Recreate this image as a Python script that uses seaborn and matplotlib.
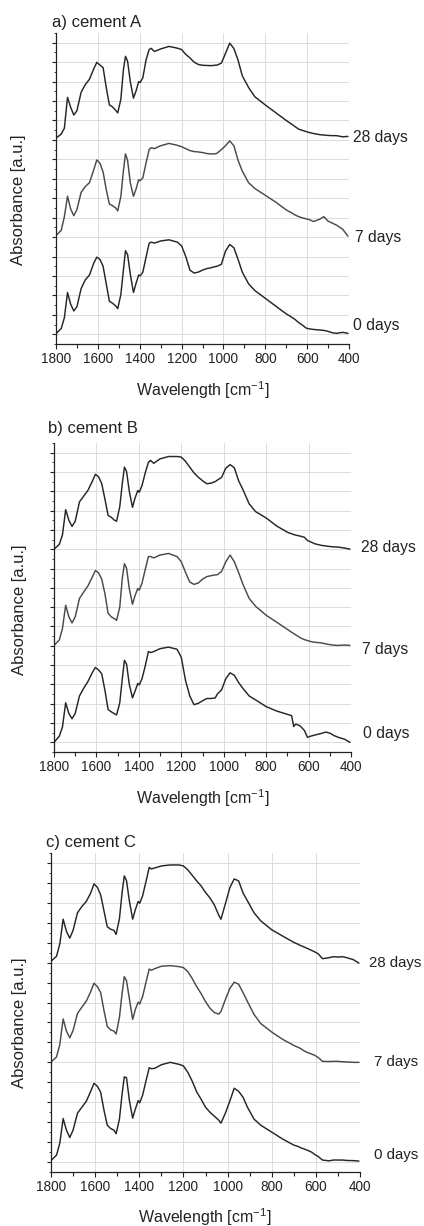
import pandas as pd
import matplotlib.pyplot as plt
import matplotlib.transforms as mtransforms
import seaborn as sns

# Wavenumber grid shared by all spectra (cm-1)
wn = [1800, 1775, 1760, 1745, 1730, 1715, 1700, 1680, 1660, 1640,
      1620, 1605, 1590, 1575, 1560, 1545, 1530, 1515, 1505, 1490,
      1478, 1468, 1458, 1445, 1430, 1418, 1405, 1398, 1385, 1370,
      1355, 1345, 1330, 1300, 1260, 1220, 1200, 1180, 1160, 1140,
      1120, 1100, 1080, 1060, 1040, 1030, 1010, 990, 970, 950,
      930, 910, 880, 850, 800, 750, 700, 680, 670, 660,
      640, 620, 605, 590, 570, 540, 520, 500, 480, 460,
      430, 405]

# cement A (stacked absorbance, a.u.)
a_0d = [0.03, 0.3, 0.85, 2.15, 1.55, 1.2, 1.42, 2.35, 2.8, 3.05,
        3.65, 3.97, 3.85, 3.5, 2.6, 1.7, 1.6, 1.46, 1.32, 2.05,
        3.3, 4.3, 4.1, 3.1, 2.15, 2.6, 3.05, 3.0, 3.2, 3.95,
        4.68, 4.74, 4.69, 4.8, 4.86, 4.74, 4.55, 4.0, 3.3, 3.15,
        3.2, 3.3, 3.38, 3.42, 3.48, 3.5, 3.6, 4.28, 4.62, 4.45,
        3.85, 3.2, 2.6, 2.25, 1.85, 1.45, 1.05, 0.92, 0.85, 0.78,
        0.6, 0.45, 0.32, 0.28, 0.25, 0.22, 0.2, 0.15, 0.08, 0.05,
        0.1, 0.05]
a_7d = [5.08, 5.35, 6.05, 7.1, 6.45, 6.1, 6.42, 7.3, 7.6, 7.8,
        8.45, 8.97, 8.8, 8.35, 7.45, 6.7, 6.62, 6.5, 6.35, 7.1,
        8.4, 9.28, 8.95, 7.8, 7.1, 7.45, 7.95, 7.9, 8.05, 8.8,
        9.5, 9.6, 9.55, 9.7, 9.82, 9.72, 9.65, 9.55, 9.45, 9.4,
        9.38, 9.35, 9.3, 9.28, 9.28, 9.32, 9.5, 9.7, 9.95, 9.7,
        8.95, 8.4, 7.8, 7.5, 7.15, 6.8, 6.4, 6.28, 6.22, 6.15,
        6.05, 5.98, 5.94, 5.9, 5.8, 5.92, 6.05, 5.82, 5.72, 5.62,
        5.4, 5.05]
a_28d = [10.09, 10.3, 10.6, 12.19, 11.68, 11.28, 11.5, 12.45, 12.85, 13.12,
         13.65, 13.99, 13.85, 13.72, 12.7, 11.8, 11.7, 11.52, 11.39, 12.1,
         13.6, 14.3, 14.05, 13.0, 12.15, 12.5, 13.0, 12.95, 13.2, 14.1,
         14.65, 14.71, 14.55, 14.68, 14.81, 14.72, 14.65, 14.4, 14.22, 14.0,
         13.88, 13.84, 13.83, 13.82, 13.84, 13.85, 13.95, 14.45, 14.98, 14.7,
         14.1, 13.3, 12.7, 12.22, 11.8, 11.4, 11.0, 10.85, 10.78, 10.7,
         10.55, 10.48, 10.43, 10.38, 10.33, 10.27, 10.25, 10.23, 10.22, 10.22,
         10.16, 10.18]

# cement B
b_0d = [0.0, 0.32, 0.8, 2.05, 1.5, 1.22, 1.5, 2.4, 2.8, 3.15,
        3.6, 3.88, 3.75, 3.55, 2.7, 1.7, 1.58, 1.48, 1.42, 2.05,
        3.3, 4.25, 4.05, 3.0, 2.3, 2.65, 3.05, 2.97, 3.3, 3.95,
        4.7, 4.65, 4.7, 4.85, 4.93, 4.82, 4.4, 3.2, 2.4, 1.95,
        2.02, 2.15, 2.27, 2.27, 2.3, 2.5, 2.72, 3.3, 3.6, 3.47,
        3.1, 2.8, 2.4, 2.2, 1.85, 1.62, 1.45, 1.38, 0.82, 0.95,
        0.85, 0.62, 0.26, 0.32, 0.38, 0.46, 0.53, 0.48, 0.35, 0.26,
        0.16, 0.0]
b_7d = [5.02, 5.3, 5.9, 7.1, 6.5, 6.18, 6.5, 7.45, 7.78, 8.1,
        8.55, 8.9, 8.78, 8.45, 7.7, 6.68, 6.5, 6.4, 6.32, 7.0,
        8.5, 9.25, 9.02, 7.95, 7.15, 7.6, 7.97, 7.88, 8.25, 8.95,
        9.62, 9.62, 9.55, 9.7, 9.78, 9.62, 9.35, 8.8, 8.3, 8.18,
        8.25, 8.45, 8.58, 8.63, 8.67, 8.68, 8.85, 9.35, 9.7, 9.35,
        8.8, 8.2, 7.45, 7.05, 6.58, 6.22, 5.85, 5.7, 5.63, 5.56,
        5.42, 5.32, 5.27, 5.22, 5.18, 5.15, 5.1, 5.06, 5.03, 5.02,
        5.04, 5.02]
b_28d = [10.0, 10.25, 10.75, 12.05, 11.5, 11.18, 11.45, 12.45, 12.75, 13.05,
         13.5, 13.88, 13.75, 13.4, 12.6, 11.75, 11.65, 11.5, 11.45, 12.2,
         13.4, 14.25, 14.02, 13.0, 12.17, 12.65, 13.04, 12.95, 13.3, 13.95,
         14.5, 14.6, 14.45, 14.68, 14.8, 14.8, 14.77, 14.55, 14.25, 13.95,
         13.73, 13.55, 13.39, 13.42, 13.5, 13.58, 13.72, 14.2, 14.38, 14.22,
         13.55, 13.1, 12.35, 11.95, 11.62, 11.2, 10.88, 10.8, 10.76, 10.73,
         10.68, 10.62, 10.45, 10.38, 10.28, 10.2, 10.17, 10.14, 10.12, 10.11,
         10.06, 10.0]

# cement C
c_0d = [0.07, 0.35, 0.95, 2.18, 1.6, 1.23, 1.6, 2.45, 2.75, 3.05,
        3.55, 3.95, 3.8, 3.5, 2.6, 1.85, 1.68, 1.6, 1.42, 2.15,
        3.4, 4.27, 4.23, 3.1, 2.2, 2.65, 3.08, 2.97, 3.35, 4.05,
        4.73, 4.68, 4.7, 4.88, 5.0, 4.9, 4.82, 4.5, 4.05, 3.52,
        3.15, 2.75, 2.5, 2.3, 2.1, 1.95, 2.45, 3.05, 3.7, 3.55,
        3.25, 2.75, 2.15, 1.85, 1.5, 1.15, 0.85, 0.78, 0.72, 0.68,
        0.6, 0.5, 0.38, 0.28, 0.1, 0.06, 0.1, 0.1, 0.1, 0.08,
        0.07, 0.05]
c_7d = [5.02, 5.27, 5.9, 7.18, 6.57, 6.23, 6.6, 7.45, 7.77, 8.07,
        8.55, 8.97, 8.8, 8.5, 7.6, 6.8, 6.63, 6.57, 6.42, 7.25,
        8.45, 9.3, 9.1, 8.2, 7.15, 7.65, 8.02, 7.93, 8.3, 9.0,
        9.68, 9.62, 9.7, 9.82, 9.85, 9.8, 9.75, 9.55, 9.2, 8.8,
        8.45, 8.05, 7.72, 7.5, 7.42, 7.55, 8.15, 8.7, 9.02, 8.92,
        8.5, 8.05, 7.4, 6.95, 6.52, 6.15, 5.85, 5.75, 5.7, 5.62,
        5.5, 5.42, 5.35, 5.25, 5.05, 5.04, 5.05, 5.05, 5.03, 5.02,
        5.0, 5.0]
c_28d = [10.07, 10.32, 10.95, 12.18, 11.57, 11.23, 11.62, 12.5, 12.82, 13.07,
         13.5, 13.95, 13.78, 13.4, 12.6, 11.8, 11.68, 11.62, 11.42, 12.2,
         13.5, 14.35, 14.12, 13.1, 12.18, 12.65, 13.07, 12.98, 13.35, 14.05,
         14.78, 14.7, 14.75, 14.85, 14.9, 14.9, 14.85, 14.65, 14.38, 14.1,
         13.85, 13.52, 13.25, 12.9, 12.38, 12.18, 12.95, 13.75, 14.2, 14.1,
         13.5, 13.1, 12.5, 12.1, 11.65, 11.33, 11.02, 10.92, 10.86, 10.82,
         10.72, 10.62, 10.54, 10.45, 10.2, 10.25, 10.3, 10.28, 10.3, 10.25,
         10.15, 9.98]

days = ["0 days", "7 days", "28 days"]
titles = ["a) cement A", "b) cement B", "c) cement C"]
spectra = [[a_0d, a_7d, a_28d], [b_0d, b_7d, b_28d], [c_0d, c_7d, c_28d]]
label_y = [[0.45, 5.0, 10.1], [0.47, 4.8, 10.1], [0.35, 5.0, 10.0]]

sns.set_style("ticks")
plt.rcParams['font.family'] = ['Liberation Sans', 'DejaVu Sans']
plt.rcParams['mathtext.default'] = 'regular'

W, H = 424, 1226
fig = plt.figure(figsize=(W / 100, H / 100), dpi=100)

# axes boxes in pixels: left, top, right, bottom
boxes = [(56, 33, 349, 344), (54, 443, 351, 752), (51, 853, 360, 1172)]
title_pos = [(52, 22), (48, 428), (46, 842)]
ylab_pos = [(19, 200), (20, 610), (20, 1023)]
xlab_pos = [(203, 390), (203, 798), (205, 1217)]
# left edge of the day labels, pixels (0, 7, 28 days)
label_x = [[353, 355, 353], [363, 362, 361], [374, 374, 369]]
label_fs = [11.3, 11.3, 10.8]

colors = {"0 days": "#262626", "7 days": "#4a4a4a", "28 days": "#262626"}

for i in range(3):
    l, t, r, b = boxes[i]
    ax = fig.add_axes([l / W, 1 - b / H, (r - l) / W, (b - t) / H])

    rows = []
    for day, vals in zip(days, spectra[i]):
        rows.append(pd.DataFrame({"wavenumber": wn, "absorbance": vals, "age": day}))
    df = pd.concat(rows, ignore_index=True)

    sns.lineplot(data=df, x="wavenumber", y="absorbance", hue="age",
                 palette=colors, estimator=None, sort=False, legend=False,
                 linewidth=1.05, ax=ax)

    ax.set_xlim(1800, 400)
    ax.set_ylim(-0.5, 15.5)
    ax.set_xticks(range(1800, 399, -200))
    ax.set_xticks(range(1700, 400, -200), minor=True)
    ax.set_yticks(range(0, 16))
    ax.set_yticks([k + 0.5 for k in range(-1, 16)], minor=True)
    ax.set_yticklabels([])
    ax.set_xlabel("")
    ax.set_ylabel("")
    ax.grid(True, which="major", color="#dcdcdc", linewidth=0.7)
    ax.set_axisbelow(True)
    xg = ax.get_xgridlines()
    xg[0].set_visible(False)
    xg[-1].set_visible(False)

    sns.despine(ax=ax)
    for s in ["left", "bottom"]:
        ax.spines[s].set_linewidth(0.9)
        ax.spines[s].set_color("#222222")
    ax.tick_params(axis="x", which="major", direction="out", length=3.5,
                   width=0.8, labelsize=9.8, pad=2, colors="#222222")
    ax.tick_params(axis="x", which="minor", direction="out", length=3,
                   width=0.8, colors="#222222")
    ax.tick_params(axis="y", which="major", direction="out", length=3,
                   width=0.8, colors="#222222")
    ax.tick_params(axis="y", which="minor", direction="out", length=1.8,
                   width=0.6, colors="#222222")

    # sample age labels at the right end of each trace
    trans = mtransforms.blended_transform_factory(fig.transFigure, ax.transData)
    for day, y, px in zip(days, label_y[i], label_x[i]):
        ax.text(px / W, y, day, transform=trans, ha="left", va="center",
                fontsize=label_fs[i], color="#222222")

    tx, ty = title_pos[i]
    fig.text(tx / W, 1 - ty / H, titles[i], ha="left", va="center",
             fontsize=12, color="#222222")
    yx, yy = ylab_pos[i]
    fig.text(yx / W, 1 - yy / H, "Absorbance [a.u.]", rotation=90,
             ha="center", va="center", fontsize=12, color="#222222")
    lx, ly = xlab_pos[i]
    fig.text(lx / W, 1 - ly / H, "Wavelength [cm$^{-1}$]", ha="center",
             va="center", fontsize=11.5, color="#222222")

fig.savefig("out.png", dpi=100)
